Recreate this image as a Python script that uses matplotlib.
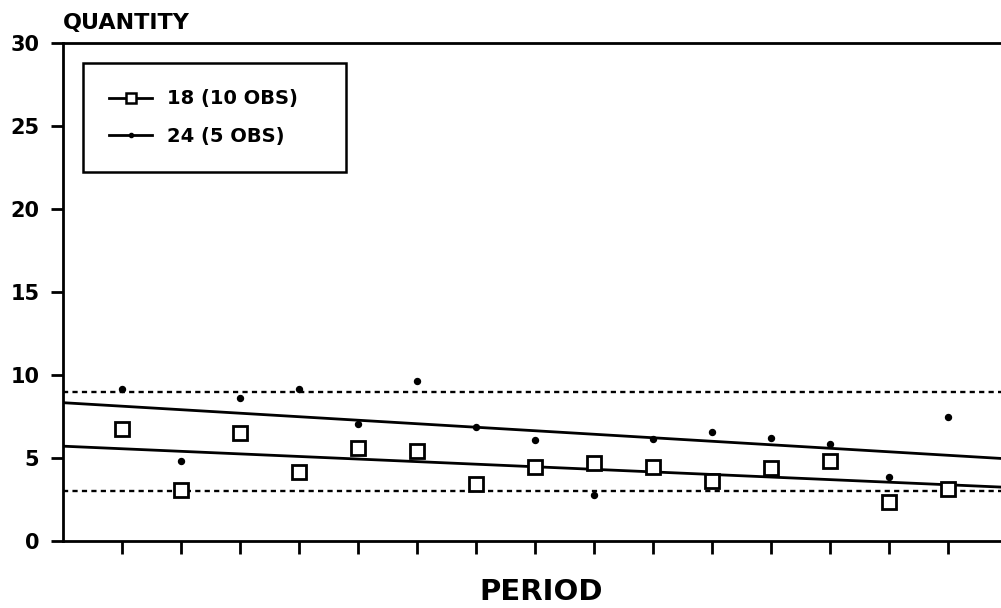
import matplotlib.pyplot as plt
from matplotlib.lines import Line2D

# values
periods = list(range(1, 16))
qty_18 = [6.77, 3.07, 6.53, 4.16, 5.63, 5.42, 3.42, 4.48, 4.72, 4.48, 3.61, 4.42, 4.82, 2.35, 3.16]
qty_24 = [9.18, 4.80, 8.60, 9.18, 7.03, 9.64, 6.87, 6.08, 2.75, 6.13, 6.57, 6.23, 5.87, 3.86, 7.47]

# trend lines (end points) and control limits
trend_x = [0, 16]
trend_24 = [8.34, 4.96]
trend_18 = [5.72, 3.24]
upper_limit = 9.0
lower_limit = 3.0

y_ticks = [0, 5, 10, 15, 20, 25, 30]
legend_labels = ['18 (10 OBS)', '24 (5 OBS)']

plt.rcParams['font.family'] = 'DejaVu Sans'
plt.rcParams['font.weight'] = 'bold'

fig = plt.figure(figsize=(10.01, 6.08), dpi=100)
ax = fig.add_axes([0.063, 0.110, 0.937, 0.819])

ax.plot(trend_x, trend_24, color='black', lw=2.0)
ax.plot(trend_x, trend_18, color='black', lw=2.0)
ax.axhline(upper_limit, color='black', lw=1.7, ls=(0, (2.2, 1.8)))
ax.axhline(lower_limit, color='black', lw=1.7, ls=(0, (2.2, 1.8)))

ax.plot(periods, qty_18, ls='none', marker='s', ms=10, mfc='white',
        mec='black', mew=2.0)
ax.plot(periods, qty_24, ls='none', marker='o', ms=4.3, color='black')

ax.set_xlim(0, 15.9)
ax.set_ylim(0, 30)
ax.set_xticks(periods)
ax.set_xticklabels([])
ax.set_yticks(y_ticks)
ax.tick_params(axis='y', length=9, width=2.0, labelsize=15, pad=8)
ax.tick_params(axis='x', length=9, width=2.0)

for s in ['left', 'top', 'bottom']:
    ax.spines[s].set_linewidth(2.0)
ax.spines['right'].set_visible(False)

handles = [
    Line2D([], [], color='black', lw=2.0, marker='s', ms=7, mfc='white', mec='black', mew=1.8),
    Line2D([], [], color='black', lw=2.0, marker='o', ms=3),
]
leg = ax.legend(handles, legend_labels, loc='upper left',
                bbox_to_anchor=(0.0213, 0.749, 0.28, 0.211), mode='expand',
                borderaxespad=0, fancybox=False, edgecolor='black',
                framealpha=1, prop={'size': 14, 'weight': 'bold'},
                handlelength=2.2, handletextpad=0.75, labelspacing=0.95,
                borderpad=1.35)
leg.get_frame().set_linewidth(1.8)

fig.text(0.063, 0.953, 'QUANTITY', fontsize=16, fontweight='bold', va='baseline')
fig.text(0.541, 0.013, 'PERIOD', fontsize=21, fontweight='bold', ha='center', va='baseline')

fig.savefig('out.png', dpi=100)
